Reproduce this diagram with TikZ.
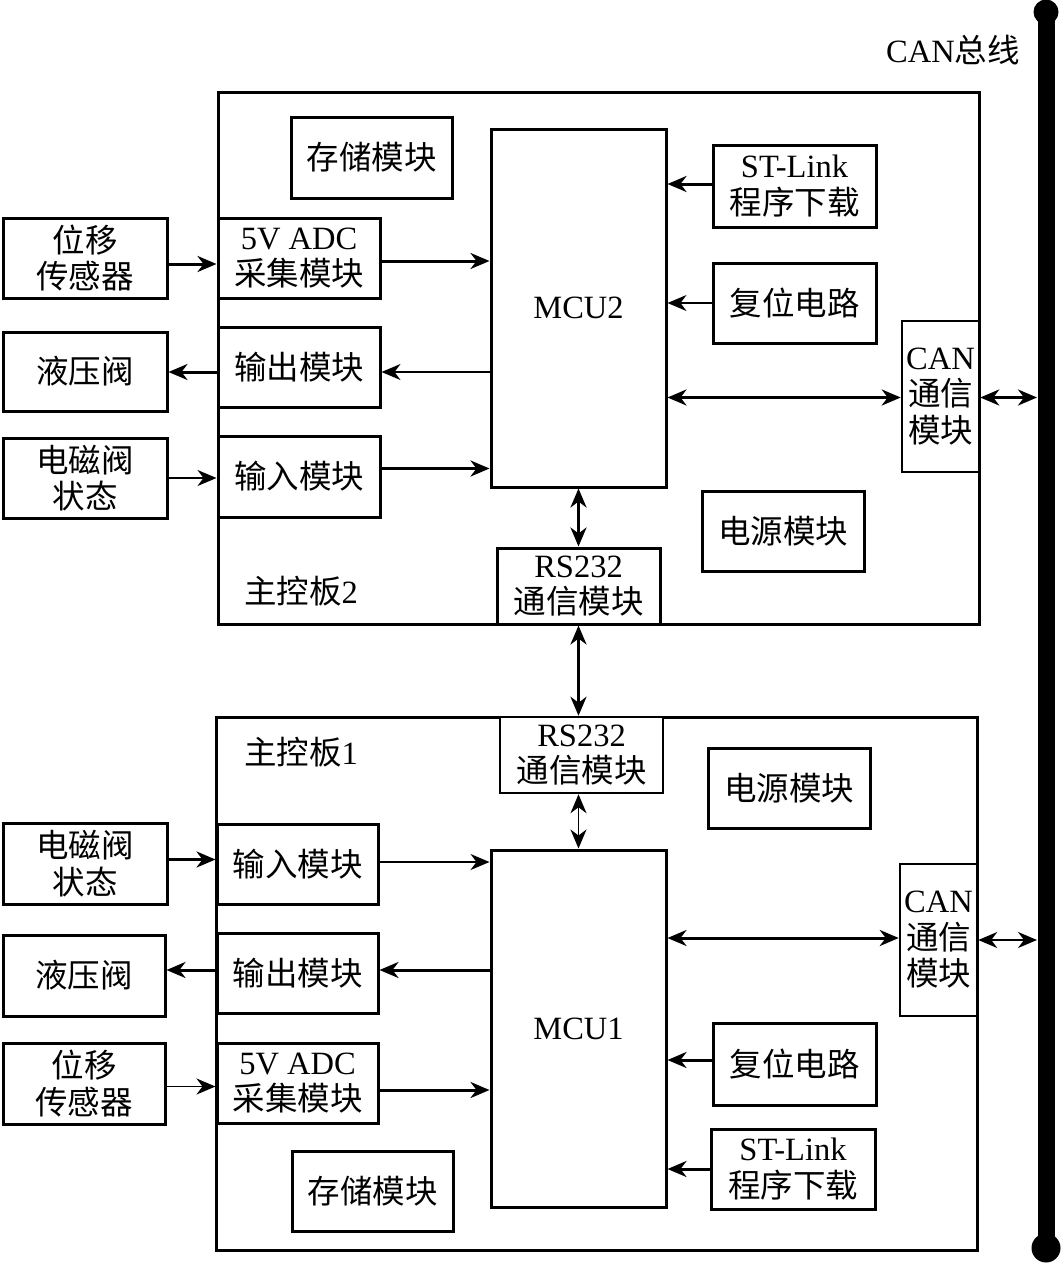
\documentclass[tikz,border=0pt]{standalone}
\usepackage{fontspec}
\setmainfont{Liberation Serif}
\newfontfamily\cjk{Noto Sans CJK SC}
\usetikzlibrary{arrows.meta,calc}
\newcommand\zhs[1]{{\cjk #1}}
\begin{document}
\begin{tikzpicture}[x=1pt,y=-1pt,
  box/.style={draw=black,line width=3pt,fill=white,inner sep=0pt,align=center,
    font=\fontsize{32.5}{36.5}\selectfont},
  board/.style={draw=black,line width=3pt,inner sep=0pt},
  lbl/.style={inner sep=0pt,font=\fontsize{32.5}{36.5}\selectfont},
  thk/.style={line width=3pt},
  thn/.style={line width=1.6pt},
  arr/.style={-{Stealth[length=19pt,width=16pt,inset=6pt]}},
  darr/.style={{Stealth[length=19pt,width=16pt,inset=6pt]}-{Stealth[length=19pt,width=16pt,inset=6pt]}},
]
\useasboundingbox (0,0) rectangle (1063,1263);

% CAN bus
\coordinate (busT) at (1046,12);
\coordinate (busB) at (1046,1248);
\coordinate (busL) at (1037,0);
\draw[line width=17pt] (busT) -- (busB);
\fill (busT) circle (12.5);
\fill (busB) circle (14.5);
\node[lbl,anchor=east] (buslbl) at (1020,50) {CAN\zhs{总线}};

% ---------- Board 2 (top) ----------
\node[board,minimum width=761,minimum height=532] (B2) at (598.5,358) {};
\node[box,minimum width=161,minimum height=81] (stor2) at (371.5,157.5) {\zhs{存储模块}};
\node[box,minimum width=175,minimum height=358] (mcu2) at (578.5,308) {MCU2};
\node[box,minimum width=163,minimum height=82] (stl2) at (794.5,186) {ST-Link\\\zhs{程序下载}};
\node[box,minimum width=163,minimum height=80] (rst2) at (794.5,303) {\zhs{复位电路}};
\node[box,minimum width=77,minimum height=151,line width=2.5pt] (can2) at (940.5,396.5) {CAN\\\zhs{通信}\\\zhs{模块}};
\node[box,minimum width=162,minimum height=80] (pow2) at (783,531) {\zhs{电源模块}};
\node[box,minimum width=163,minimum height=76] (rs2) at (578.5,586) {RS232\\\zhs{通信模块}};
\node[box,minimum width=162,minimum height=80] (adc2) at (299,258) {5V ADC\\\zhs{采集模块}};
\node[box,minimum width=162,minimum height=80] (out2) at (299,367) {\zhs{输出模块}};
\node[box,minimum width=162,minimum height=81] (in2) at (299,476.5) {\zhs{输入模块}};
\node[box,minimum width=164,minimum height=80] (sen2) at (85,258) {\zhs{位移}\\\zhs{传感器}};
\node[box,minimum width=164,minimum height=79] (hyd2) at (85,371.5) {\zhs{液压阀}};
\node[box,minimum width=164,minimum height=80] (sol2) at (85,478) {\zhs{电磁阀}\\\zhs{状态}};
\node[lbl] (lab2) at (301,591) {\zhs{主控板}2};

% ---------- Board 1 (bottom) ----------
\node[board,minimum width=761,minimum height=533] (B1) at (596.5,983.5) {};
\node[box,minimum width=163,minimum height=76,line width=2.5pt] (rs1) at (581.5,755) {RS232\\\zhs{通信模块}};
\node[box,minimum width=162,minimum height=80] (pow1) at (789,788) {\zhs{电源模块}};
\node[box,minimum width=161,minimum height=80] (in1) at (297.5,864) {\zhs{输入模块}};
\node[box,minimum width=161,minimum height=80] (out1) at (297.5,973) {\zhs{输出模块}};
\node[box,minimum width=161,minimum height=80] (adc1) at (297.5,1083) {5V ADC\\\zhs{采集模块}};
\node[box,minimum width=161,minimum height=80] (stor1) at (372.5,1191) {\zhs{存储模块}};
\node[box,minimum width=175,minimum height=357] (mcu1) at (578.5,1028.5) {MCU1};
\node[box,minimum width=77,minimum height=152,line width=2.5pt] (can1) at (938.5,940) {CAN\\\zhs{通信}\\\zhs{模块}};
\node[box,minimum width=163,minimum height=82] (rst1) at (794.5,1064) {\zhs{复位电路}};
\node[box,minimum width=164,minimum height=80] (stl1) at (793,1169) {ST-Link\\\zhs{程序下载}};
\node[box,minimum width=164,minimum height=81] (sol1) at (85,863.5) {\zhs{电磁阀}\\\zhs{状态}};
\node[box,minimum width=162,minimum height=81] (hyd1) at (84,975.5) {\zhs{液压阀}};
\node[box,minimum width=162,minimum height=81] (sen1) at (84,1083.5) {\zhs{位移}\\\zhs{传感器}};
\node[lbl] (lab1) at (301,752) {\zhs{主控板}1};

% ---------- Connectors board 2 ----------
\draw[thk,arr] ([yshift=-6pt]sen2.east) -- ([yshift=-6pt]sen2.east -| adc2.west);
\draw[thk,arr] ([yshift=-3pt]adc2.east) -- ([yshift=-3pt]adc2.east -| mcu2.west);
\draw[thn,arr] ([yshift=-5pt]out2.east -| mcu2.west) -- ([yshift=-5pt]out2.east);
\draw[thk,arr] ([yshift=-5pt]out2.west) -- ([yshift=-5pt]out2.west -| hyd2.east);
\draw[thn,arr] (sol2.east) -- (sol2.east -| in2.west);
\draw[thk,arr] ([yshift=8pt]in2.east) -- ([yshift=8pt]in2.east -| mcu2.west);
\draw[thk,arr] ([yshift=2pt]stl2.west) -- ([yshift=2pt]stl2.west -| mcu2.east);
\draw[thn,arr] (rst2.west) -- (rst2.west -| mcu2.east);
\draw[thk,darr] ([yshift=-1pt]can2.west -| mcu2.east) -- ([yshift=-1pt]can2.west);
\draw[thk,darr] ([yshift=-1pt]can2.east) -- ([yshift=-1pt]can2.east -| busL);
\draw[thk,darr] (mcu2.south) -- (rs2.north);
\draw[thk,darr] (rs2.south) -- (rs2.south |- rs1.north);

% ---------- Connectors board 1 ----------
\draw[thn,darr] ([xshift=-3pt]rs1.south) -- ([xshift=-3pt]rs1.south |- mcu1.north);
\draw[thk,arr] ([yshift=4pt]sol1.east) -- ([yshift=4pt]sol1.east -| in1.west);
\draw[thn,arr] ([yshift=2pt]in1.east) -- ([yshift=2pt]in1.east -| mcu1.west);
\draw[thk,arr] ([yshift=3pt]out1.east -| mcu1.west) -- ([yshift=3pt]out1.east);
\draw[thk,arr] ([yshift=3pt]out1.west) -- ([yshift=3pt]out1.west -| hyd1.east);
\draw[thn,arr] ([yshift=-3pt]sen1.east) -- ([yshift=-3pt]sen1.east -| adc1.west);
\draw[thk,arr] ([yshift=-7pt]adc1.east) -- ([yshift=-7pt]adc1.east -| mcu1.west);
\draw[thk,darr] ([yshift=2pt]can1.west -| mcu1.east) -- ([yshift=2pt]can1.west);
\draw[thn,darr] (can1.east) -- (can1.east -| busL);
\draw[thk,arr] ([yshift=4pt]rst1.west) -- ([yshift=4pt]rst1.west -| mcu1.east);
\draw[thk,arr] (stl1.west) -- (stl1.west -| mcu1.east);
\end{tikzpicture}
\end{document}
